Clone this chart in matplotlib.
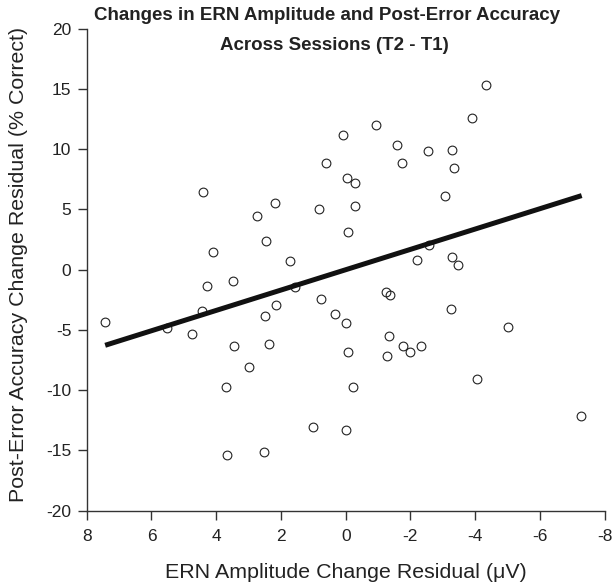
import numpy as np
import matplotlib.pyplot as plt

plt.rcParams['font.family'] = ['Liberation Sans', 'DejaVu Sans']
plt.rcParams['axes.unicode_minus'] = False

# residuals
ern_resid = [0.07, 0.60, -0.03, -0.29, 4.40, 2.17, 2.74, 0.82, -0.29, 2.46,
             -0.07, 4.09, 1.73, -4.33, -3.89, -0.95, -1.58, -2.55, -3.27, -1.75,
             -3.36, -3.08, -2.57, -2.21, -3.28, -3.47, 7.43, 5.51, 4.76, 4.43,
             4.29, 3.49, 3.46, 3.00, 3.71, 3.68, 2.51, 2.48, 2.16, 2.38,
             1.57, 0.76, 0.32, 0.00, -0.06, -0.22, 1.00, -0.01, -1.25, -1.37,
             -3.24, -5.02, -1.33, -1.76, -1.99, -2.34, -1.28, -4.05, -7.27]
acc_resid = [11.2, 8.82, 7.58, 7.16, 6.45, 5.56, 4.42, 5.0, 5.31, 2.38,
             3.13, 1.47, 0.72, 15.3, 12.6, 11.98, 10.37, 9.87, 9.93, 8.82,
             8.41, 6.08, 2.07, 0.83, 1.08, 0.36, -4.34, -4.84, -5.31, -3.46,
             -1.35, -0.97, -6.31, -8.1, -9.71, -15.4, -15.1, -3.84, -2.90, -6.14,
             -1.47, -2.43, -3.65, -4.45, -6.80, -9.71, -13.03, -13.33, -1.85, -2.13,
             -3.29, -4.73, -5.53, -6.33, -6.80, -6.33, -7.19, -9.08, -12.12]

# regression line ends
fit_x = [7.43, -7.29]
fit_y = [-6.28, 6.14]

xticks = [8, 6, 4, 2, 0, -2, -4, -6, -8]
yticks = [20, 15, 10, 5, 0, -5, -10, -15, -20]

fig = plt.figure(figsize=(6.12, 5.88), dpi=100)
ax = fig.add_axes([0.1417, 0.1315, 0.8463, 0.82])
txt = '#222222'

ax.plot(fit_x, fit_y, color='#111111', lw=3.6, solid_capstyle='butt', zorder=3)
ax.plot(ern_resid, acc_resid, 'o', ms=6.3, mfc='none', mec='#222222', mew=0.8, zorder=2)

ax.set_xlim(8, -8)
ax.set_ylim(-20, 20)
ax.set_xticks(xticks)
ax.set_yticks(yticks)
ax.spines['top'].set_visible(False)
ax.spines['right'].set_visible(False)
for s in ['left', 'bottom']:
    ax.spines[s].set_color('#333333')
    ax.spines[s].set_linewidth(1.0)
ax.tick_params(direction='out', length=6.5, width=1.0, color='#333333',
               labelsize=12.5, labelcolor=txt)
ax.tick_params(axis='x', pad=7)
ax.tick_params(axis='y', pad=4.5)

ax.set_xlabel('ERN Amplitude Change Residual (μV)', fontsize=15.4, color=txt, va='center')
ax.set_ylabel('Post-Error Accuracy Change Residual (% Correct)', fontsize=15.4, color=txt, va='center')
ax.xaxis.set_label_coords(0.5, -0.1286)
ax.yaxis.set_label_coords(-0.131, 0.511)

fig.text(0.534, 0.973, 'Changes in ERN Amplitude and Post-Error Accuracy',
         ha='center', va='center', fontsize=13.5, fontweight='bold', color=txt)
fig.text(0.547, 0.923, 'Across Sessions (T2 - T1)',
         ha='center', va='center', fontsize=13.5, fontweight='bold', color=txt)

fig.savefig('out.png', dpi=100)
